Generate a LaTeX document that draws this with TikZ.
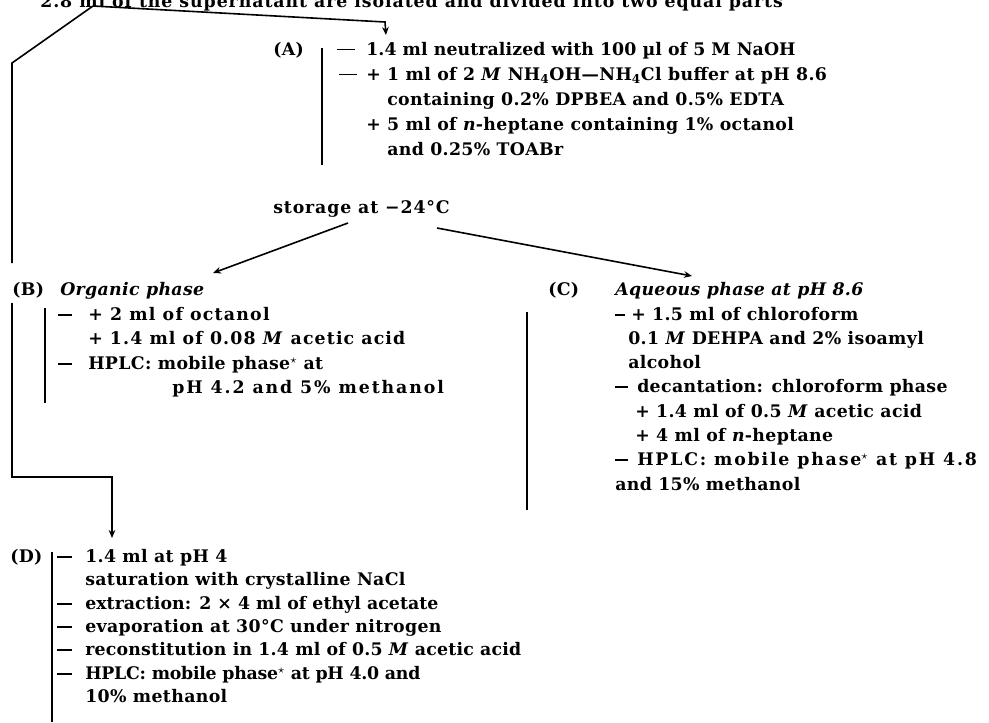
\documentclass[tikz,border=0pt]{standalone}
\usepackage{fontspec}
\setmainfont{DejaVu Serif}[LetterSpace=2]
\usetikzlibrary{arrows.meta}
\newcommand\dbox[2]{\makebox[#1][l]{\rule[0.26em]{#2}{1.15pt}}}
\newcommand\ls[1]{\addfontfeature{LetterSpace=#1}}
\begin{document}
\begin{tikzpicture}[x=0.75pt,y=-0.75pt,
  txt/.style={anchor=base west,inner sep=0pt,font=\fontsize{13pt}{15pt}\selectfont\bfseries},
  conn/.style={line width=1.2pt},
  arr/.style={conn,-{Stealth[length=6pt,width=5pt]}},
  bar/.style={line width=1.1pt}]
\clip (0,0) rectangle (989,722);
\fill[white] (0,0) rectangle (989,722);
% title
\node[txt] (t0) at (40,7) {\ls{5.4}2.8 ml of the supernatant are isolated and divided into two equal parts};
% A
\node[txt] (la) at (273,55) {(A)};
\node[txt] (a1) at (337,55) {\dbox{21.75pt}{13.5pt}\ls{0.5}1.4 ml neutralized with 100 µl of 5 M NaOH};
\node[txt] (a2) at (339,80) {\dbox{20.25pt}{13.5pt}+ 1 ml of 2 \textit{M} NH\textsubscript{4}OH—NH\textsubscript{4}Cl buffer at pH 8.6};
\node[txt] (a3) at (387,105) {containing 0.2\% DPBEA and 0.5\% EDTA};
\node[txt] (a4) at (366,130) {+ 5 ml of \textit{n}-heptane containing 1\% octanol};
\node[txt] (a5) at (387,155) {and 0.25\% TOABr};
\node[txt] (st) at (273,213) {\ls{5}storage at −24°C};
% B
\node[txt] (lb) at (12,295) {(B)};
\node[txt] (b0) at (60,295) {\textit{Organic phase}};
\node[txt] (b1) at (58,320) {\dbox{22.5pt}{10.5pt}\ls{7}+ 2 ml of octanol};
\node[txt] (b2) at (88,344) {\ls{6.5}+ 1.4 ml of 0.08 \textit{M} acetic acid};
\node[txt] (b3) at (58,369) {\dbox{22.5pt}{10.5pt}HPLC: mobile phase$^\star$ at};
\node[txt] (b4) at (172,393) {\ls{11}pH 4.2 and 5\% methanol};
% C
\node[txt] (lc) at (548,295) {(C)};
\node[txt] (c0) at (615,295) {\textit{Aqueous phase at pH 8.6}};
\node[txt] (c1) at (615,320) {\dbox{12pt}{7.5pt}+ 1.5 ml of chloroform};
\node[txt] (c2) at (628,344) {0.1 \textit{M} DEHPA and 2\% isoamyl};
\node[txt] (c3) at (628,368) {alcohol};
\node[txt] (c4) at (615,392) {\dbox{16.5pt}{9.75pt}decantation: chloroform phase};
\node[txt] (c5) at (635,417) {+ 1.4 ml of 0.5 \textit{M} acetic acid};
\node[txt] (c6) at (635,441) {+ 4 ml of \textit{n}-heptane};
\node[txt] (c7) at (615,465) {\dbox{16.5pt}{9.75pt}\ls{10.5}HPLC: mobile phase$^\star$ at pH 4.8};
\node[txt] (c8) at (615,490) {and 15\% methanol};
% D
\node[txt] (ld) at (10,562) {(D)};
\node[txt] (d1) at (57,562) {\dbox{21pt}{11.25pt}1.4 ml at pH 4};
\node[txt] (d2) at (85,585.5) {saturation with crystalline NaCl};
\node[txt] (d3) at (57,609) {\dbox{21pt}{11.25pt}\ls{0.3}extraction: 2 × 4 ml of ethyl acetate};
\node[txt] (d4) at (57,632) {\dbox{21pt}{11.25pt}evaporation at 30°C under nitrogen};
\node[txt] (d5) at (57,655.5) {\dbox{21pt}{11.25pt}\ls{1.2}reconstitution in 1.4 ml of 0.5 \textit{M} acetic acid};
\node[txt] (d6) at (57,679) {\dbox{21pt}{11.25pt}\ls{-1.5}HPLC: mobile phase$^\star$ at pH 4.0 and};
\node[txt] (d7) at (85,702) {10\% methanol};
% connector points
\coordinate (sp) at (93,6);
\coordinate (cornerL) at (12,63);
\coordinate (bTop) at (12,263);
\coordinate (aBend) at (385,22);
\coordinate (aIn) at (386,35);
\coordinate (stL) at (348,223);
\coordinate (bIn) at (213,273);
\coordinate (stR) at (437,228);
\coordinate (cIn) at (692,276);
\coordinate (bBot) at (12,303);
\coordinate (bCorner) at (12,477);
\coordinate (dCorner) at (112,477);
\coordinate (dIn) at (112,538);
% connectors
\draw[conn] (bTop) -- (cornerL) -- (sp);
\draw[arr] (sp) -- (aBend) -- (aIn);
\draw[arr] (stL) -- (bIn);
\draw[arr] (stR) -- (cIn);
\draw[arr] (bBot) -- (bCorner) -- (dCorner) -- (dIn);
% bars
\draw[bar] (322,48) -- (322,165);
\draw[bar] (45,308) -- (45,403);
\draw[bar] (527,312) -- (527,510);
\draw[bar] (52,552) -- (52,722);
\end{tikzpicture}
\end{document}
